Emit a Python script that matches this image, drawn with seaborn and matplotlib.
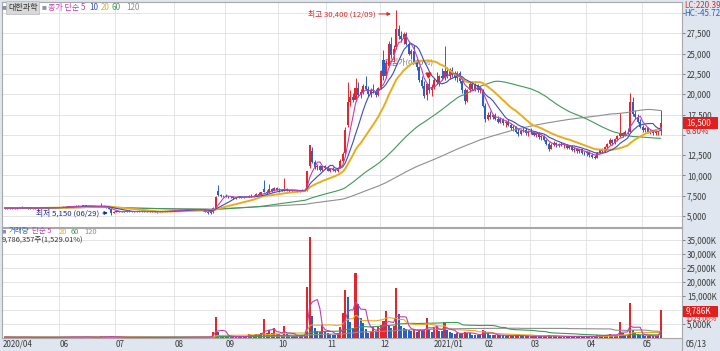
import matplotlib
matplotlib.use('Agg')
import matplotlib.pyplot as plt
import matplotlib.transforms as mtransforms
from matplotlib.patches import Rectangle
from matplotlib.ticker import FixedLocator, FuncFormatter
import numpy as np
import pandas as pd
import seaborn as sns

sns.set_theme(style='white')
plt.rcParams['font.family'] = ['Liberation Sans Narrow', 'Noto Sans CJK KR', 'DejaVu Sans']
plt.rcParams['axes.unicode_minus'] = False

# ---------------- data (prices in units of 10 won, volume in 1,000 shares) ----------------
open_10w = [600,598,595,600,596,592,597,610,604,600,
            598,594,590,596,603,607,601,598,602,606,
            603,600,605,612,610,615,620,616,618,626,
            620,622,630,624,618,621,616,612,618,628,
            614,602,590,540,552,560,555,552,556,562,
            558,550,554,557,560,555,551,553,556,553,
            549,552,557,560,556,558,563,566,570,576,
            572,574,580,578,575,580,586,578,574,564,
            552,538,545,600,810,760,742,752,740,730,
            738,720,728,735,722,738,732,752,745,750,
            775,760,830,800,785,830,810,850,820,825,
            812,830,810,818,805,812,800,810,822,830,
            1110,1300,1170,1100,1120,1070,1110,1090,1060,1080,
            1065,1050,1095,1180,1270,1620,1900,1960,1930,2080,
            1990,2030,2100,2070,2000,2050,2040,1990,2080,2420,
            2220,2350,2620,2480,2580,2800,2720,2680,2740,2620,
            2500,2530,2400,2330,2180,2100,1990,2120,2050,2090,
            2180,2150,2220,2200,2290,2230,2300,2240,2200,2260,
            2160,2050,1920,2050,2120,2070,2110,2050,2040,1860,
            1700,1750,1720,1740,1700,1660,1700,1640,1660,1620,
            1580,1600,1540,1510,1550,1560,1520,1540,1530,1500,
            1520,1470,1490,1430,1390,1330,1380,1400,1370,1390,
            1370,1380,1340,1360,1310,1330,1300,1320,1280,1270,
            1290,1250,1230,1220,1280,1320,1300,1350,1390,1440,
            1400,1450,1480,1520,1490,1540,1540,1900,1760,1720,
            1660,1600,1560,1580,1530,1550,1520,1540,1545]

high_10w = [612,605,603,608,602,600,615,618,610,606,
            604,600,598,606,612,610,606,604,610,612,
            608,606,615,620,618,625,628,622,630,632,
            626,634,636,630,625,628,622,620,660,632,
            618,606,592,560,565,566,562,560,565,568,
            562,558,560,565,564,560,556,560,562,558,
            555,560,564,566,562,566,570,575,580,582,
            578,585,588,584,582,592,590,583,578,568,
            556,548,610,745,880,775,760,765,748,745,
            742,735,740,738,742,750,760,770,758,780,
            790,800,945,815,890,845,860,855,840,835,
            970,840,825,822,818,820,815,828,830,1060,
            1380,1350,1190,1140,1130,1120,1130,1110,1090,1100,
            1080,1100,1200,1290,1600,2150,2050,2020,2200,2150,
            2060,2120,2220,2100,2080,2130,2060,2090,2300,2550,
            2420,2650,2700,2600,3040,2850,2780,2760,2760,2660,
            2560,2600,2460,2350,2230,2160,2140,2200,2120,2200,
            2270,2240,2320,2590,2340,2320,2330,2290,2280,2290,
            2180,2080,2070,2150,2160,2140,2130,2100,2060,1890,
            1780,1790,1760,1770,1730,1720,1710,1680,1690,1650,
            1620,1610,1580,1570,1590,1580,1560,1580,1550,1540,
            1530,1500,1500,1450,1410,1400,1420,1410,1400,1410,
            1390,1390,1380,1370,1350,1340,1330,1330,1300,1300,
            1300,1270,1250,1290,1330,1340,1360,1400,1460,1450,
            1460,1500,1770,1540,1560,1580,2020,1960,1800,1760,
            1690,1620,1600,1590,1570,1560,1560,1550,1800]

low_10w = [592,590,588,590,585,586,595,600,596,592,
           590,585,584,592,598,598,594,590,598,600,
           596,594,600,606,604,610,612,608,615,616,
           612,618,620,615,610,614,608,606,615,610,
           598,585,515,535,546,550,548,545,550,555,
           548,544,548,552,552,548,545,548,550,546,
           542,548,552,554,550,554,558,560,565,568,
           565,570,574,570,568,576,575,570,560,548,
           530,528,542,598,750,735,730,735,725,722,
           715,712,720,718,720,728,730,740,735,745,
           755,752,790,775,780,800,805,815,800,805,
           810,805,800,798,800,795,795,805,806,810,
           1090,1150,1080,1070,1060,1050,1080,1050,1040,1055,
           1040,1045,1090,1170,1260,1600,1850,1900,1920,1960,
           1950,2000,2050,1980,1970,2020,1970,1980,2070,2180,
           2200,2330,2450,2400,2560,2680,2640,2620,2600,2480,
           2430,2380,2300,2150,2080,1950,1930,2020,1980,2060,
           2120,2100,2180,2180,2200,2190,2210,2170,2150,2140,
           2020,1880,1900,2030,2050,2040,2030,2010,1840,1660,
           1680,1700,1690,1680,1640,1640,1620,1600,1610,1560,
           1550,1520,1490,1500,1530,1500,1490,1510,1480,1470,
           1450,1440,1420,1370,1300,1320,1360,1350,1350,1360,
           1340,1330,1320,1300,1290,1280,1270,1260,1250,1240,
           1230,1210,1200,1210,1270,1280,1290,1330,1370,1380,
           1390,1420,1470,1470,1480,1510,1530,1730,1690,1640,
           1580,1540,1530,1520,1510,1500,1500,1500,1500]

close_10w = [598,595,600,596,592,597,610,604,600,598,
             594,590,596,603,607,601,598,602,606,603,
             600,605,612,610,615,620,616,618,626,620,
             622,630,624,618,621,616,612,618,628,614,
             602,590,540,552,560,555,552,556,562,558,
             550,554,557,560,555,551,553,556,553,549,
             552,557,560,556,558,563,566,570,576,572,
             574,580,578,575,580,586,578,574,564,552,
             538,545,600,735,760,742,752,740,730,738,
             720,728,735,722,738,732,752,745,750,775,
             760,790,800,785,830,810,850,820,825,812,
             830,810,818,805,812,800,810,822,812,1055,
             1370,1170,1100,1120,1070,1110,1090,1060,1080,1065,
             1050,1095,1180,1260,1560,1900,1960,1930,2080,1990,
             2030,2100,2070,2000,2050,2040,1990,2080,2280,2220,
             2380,2620,2480,2560,2800,2720,2680,2740,2620,2500,
             2530,2400,2330,2180,2100,1980,2120,2050,2090,2180,
             2150,2220,2200,2290,2230,2300,2240,2200,2260,2160,
             2050,1920,2050,2120,2070,2110,2050,2080,1860,1700,
             1750,1720,1740,1700,1660,1700,1640,1660,1620,1580,
             1600,1540,1510,1550,1560,1520,1540,1530,1500,1520,
             1470,1490,1430,1390,1330,1380,1400,1370,1390,1370,
             1380,1340,1360,1310,1330,1300,1320,1280,1270,1290,
             1250,1230,1220,1280,1320,1300,1350,1390,1440,1400,
             1450,1480,1520,1490,1540,1530,1900,1760,1720,1660,
             1600,1560,1580,1530,1550,1520,1540,1545,1650]

volume_k = [250,180,200,150,140,160,320,210,150,130,
            120,140,150,180,200,140,120,130,170,150,
            120,140,250,200,220,300,240,180,350,260,
            200,380,280,210,190,170,160,180,700,300,
            220,260,600,300,220,160,130,140,170,140,
            120,110,120,150,110,100,100,110,100,100,
            110,130,140,120,110,140,160,180,220,170,
            150,230,200,150,160,260,180,150,200,250,
            320,300,2100,7500,2000,900,600,500,400,420,
            380,350,400,300,500,450,1200,800,500,1300,
            900,1500,6570,1800,2800,1500,3500,1200,1300,900,
            4100,1200,800,700,600,700,650,900,700,18200,
            36070,7860,3400,2500,2000,4530,2200,1500,1400,1100,
            900,1800,3800,8700,17040,14650,5700,3300,23000,12100,
            7000,5250,3000,1800,2200,3800,2500,4200,4500,6000,
            9530,4500,3300,4000,17640,8350,4000,3500,3000,2800,
            2500,3200,2000,2600,2300,2900,7000,3000,2200,3500,
            4000,2500,2300,5700,2800,2000,1500,1300,1600,1400,
            1800,2200,1700,1500,1100,1000,900,800,2600,2400,
            1500,1000,800,900,1000,900,800,700,700,800,
            700,800,900,700,600,600,500,500,600,500,
            600,500,600,700,800,600,500,450,450,400,
            400,450,400,500,400,450,400,450,400,400,
            450,500,500,800,900,600,900,1100,1300,800,
            900,1000,5500,1700,1000,1200,12270,2600,1500,1200,
            1000,800,700,700,600,600,700,640,9786]

# first trading day index of each month and its axis label
month_start_idx = [22, 44, 67, 87, 108, 127, 148, 169, 189, 207, 229, 251]
month_labels = ['06', '07', '08', '09', '10', '11', '12', '2021/01', '02', '03', '04', '05']
first_label = '2020/04'
last_date_label = '05/13'

price_ticks = [5000, 7500, 10000, 12500, 15000, 17500, 20000, 22500, 25000, 27500, 30000]
volume_ticks_k = [5000, 10000, 15000, 20000, 25000, 30000, 35000]
# tick labels covered by the right-side value boxes
covered_price = {30000, 15000}
covered_volume = {10000}

# ---------------- build frame ----------------
n = min(len(open_10w), len(high_10w), len(low_10w), len(close_10w), len(volume_k))
df = pd.DataFrame({
    'idx': np.arange(n),
    'open': np.array(open_10w[:n]) * 10,
    'high': np.array(high_10w[:n]) * 10,
    'low': np.array(low_10w[:n]) * 10,
    'close': np.array(close_10w[:n]) * 10,
    'vol': np.array(volume_k[:n], dtype=float),
})

RED = '#e3262b'
BLUE = '#2b5fc8'
MA_COLORS = {5: '#c33fae', 10: '#3a4fb8', 20: '#e9ad1c', 60: '#3e9a58', 120: '#8e8e8e'}
MA_LW = {5: 0.8, 10: 0.8, 20: 1.4, 60: 0.8, 120: 0.8}
BG = '#dfe6ef'
GRID = '#e0e0e0'
TXT = '#3a3a3a'

W, H = 720, 351
fig = plt.figure(figsize=(7.2, 3.51), dpi=100, facecolor=BG)

def fx(px):
    return px / W

def fy(py):
    return 1 - py / H

ax = fig.add_axes([fx(2), fy(227), fx(682) - fx(2), fy(2) - fy(227)])
axv = fig.add_axes([fx(2), fy(338), fx(682) - fx(2), fy(228) - fy(338)])

XL = (-1.03, 266.4)

# ---------------- price panel ----------------
ax.set_facecolor('white')
up = df['close'] >= df['open']
ccol = np.where(up, RED, BLUE)
ax.vlines(df['idx'], df['low'], df['high'], colors=ccol, lw=0.7, zorder=3)
body_bottom = np.minimum(df['open'], df['close'])
body_h = np.maximum(np.abs(df['close'] - df['open']), 40)
ax.bar(df['idx'], body_h, bottom=body_bottom, width=0.8, color=ccol, lw=0, zorder=4)

for w in [120, 60, 20, 10, 5]:
    ma = df['close'].rolling(w, min_periods=1).mean()
    sns.lineplot(x=df['idx'], y=ma, ax=ax, color=MA_COLORS[w], linewidth=MA_LW[w],
                 zorder=5, legend=False)

ax.set_xlim(*XL)
ax.set_ylim(3645, 31355)
ax.set_xlabel('')
ax.set_ylabel('')
ax.xaxis.set_major_locator(FixedLocator([m - 0.5 for m in month_start_idx]))
ax.tick_params(axis='x', length=0, labelbottom=False)
ax.yaxis.tick_right()
ax.yaxis.set_major_locator(FixedLocator(price_ticks))
ax.yaxis.set_major_formatter(FuncFormatter(
    lambda v, p: '' if round(v) in covered_price else f'{v:,.0f}'))
ax.tick_params(axis='y', right=True, length=2.5, width=0.6, color='#707070',
               labelsize=5.8, labelcolor=TXT, pad=1)
ax.grid(True, color=GRID, lw=0.6, zorder=0)
ax.set_axisbelow(True)
for s in ax.spines.values():
    s.set_color('#a8a8a8')
    s.set_linewidth(0.8)

# annotations in the price panel
ax.annotate('최고 30,400 (12/09)', xy=(151.9, 29880), xytext=(-11, 0), textcoords='offset points',
            ha='right', va='center', fontsize=5.6, color='#d42a2a', zorder=7,
            arrowprops=dict(arrowstyle='-|>', color='#d42a2a', lw=0.7, mutation_scale=5,
                            shrinkA=0, shrinkB=0))
ax.annotate('최저 5,150 (06/29)', xy=(40.6, 5370), xytext=(-6, 0), textcoords='offset points',
            ha='right', va='center', fontsize=5.6, color='#1f2a8a', zorder=7,
            arrowprops=dict(arrowstyle='-|>', color='#1f2a8a', lw=0.7, mutation_scale=5,
                            shrinkA=0, shrinkB=0))
ax.text(149.2, 23970, '매입가(0.00%)', ha='left', va='center', fontsize=5.6,
        color='#707070', zorder=2)
ax.plot([166.5], [22360], marker='v', ms=3.5, color='#e02020', zorder=6)

# ---------------- volume panel ----------------
axv.set_facecolor('white')
vprev = df['vol'].shift(1).fillna(0)
vcol = np.where(df['vol'] >= vprev, RED, BLUE)
axv.bar(df['idx'], df['vol'], width=0.8, color=vcol, lw=0, zorder=3)
for w in [120, 60, 20, 5]:
    vma = df['vol'].rolling(w, min_periods=1).mean()
    sns.lineplot(x=df['idx'], y=vma, ax=axv, color=MA_COLORS[w], linewidth=0.8,
                 zorder=4, legend=False)
axv.set_xlim(*XL)
axv.set_ylim(-107, 39175)
axv.set_xlabel('')
axv.set_ylabel('')
axv.xaxis.set_major_locator(FixedLocator([m - 0.5 for m in month_start_idx]))
axv.tick_params(axis='x', length=0, labelbottom=False)
axv.yaxis.tick_right()
axv.yaxis.set_major_locator(FixedLocator(volume_ticks_k))
axv.yaxis.set_major_formatter(FuncFormatter(
    lambda v, p: '' if round(v) in covered_volume else f'{v:,.0f}K'))
axv.tick_params(axis='y', right=True, length=2.5, width=0.6, color='#707070',
                labelsize=5.8, labelcolor=TXT, pad=1)
axv.grid(True, color=GRID, lw=0.6, zorder=0)
axv.set_axisbelow(True)
for s in axv.spines.values():
    s.set_color('#a8a8a8')
    s.set_linewidth(0.8)

# ---------------- date labels ----------------
tr = mtransforms.blended_transform_factory(axv.transData, fig.transFigure)
axv.text(-0.6, fy(344.5), first_label, transform=tr, ha='left', va='center',
         fontsize=5.8, color=TXT, clip_on=False)
for m, lab in zip(month_start_idx, month_labels):
    axv.text(m - 0.2, fy(344.5), lab, transform=tr, ha='left', va='center',
             fontsize=5.8, color=TXT, clip_on=False)
fig.text(fx(686), fy(344.5), last_date_label, ha='left', va='center', fontsize=5.8, color=TXT)
fig.add_artist(plt.Line2D([fx(682), fx(682)], [fy(338), fy(351)], color='#a8a8a8', lw=0.8))

# ---------------- legends ----------------
def seq(items, y):
    for x, s, c, size in items:
        fig.text(fx(x), fy(y), s, ha='left', va='center', fontsize=size, color=c)

fig.text(fx(8), fy(7.5), '대한과학', ha='left', va='center', fontsize=5.8, color='#333333',
         bbox=dict(boxstyle='square,pad=0.2', fc='#d8d8d8', ec='#b8b8b8', lw=0.5))
seq([(2, '■', '#8a93a8', 3.5),
     (42, '■', '#8a93a8', 3.5),
     (48, '종가 단순 5', MA_COLORS[5], 5.8),
     (89, '10', MA_COLORS[10], 5.8),
     (101, '20', MA_COLORS[20], 5.8),
     (112, '60', MA_COLORS[60], 5.8),
     (126, '120', MA_COLORS[120], 5.8)], 7.5)

seq([(2, '■', '#8a93a8', 3.2),
     (9, '거래량', '#3a6fb8', 5.4),
     (32, '단순 5', MA_COLORS[5], 5.4),
     (59, '20', MA_COLORS[20], 5.4),
     (71, '60', MA_COLORS[60], 5.4),
     (84, '120', MA_COLORS[120], 5.4)], 231.5)
fig.text(fx(2), fy(240.8), '9,786,357주(1,529.01%)', ha='left', va='center',
         fontsize=5.4, color='#333333')

# ---------------- right side boxes ----------------
fig.text(fx(684), fy(5.5), 'LC:220.39', ha='left', va='center', fontsize=5.8, color='#d42a2a')
fig.text(fx(684), fy(13.5), 'HC:-45.72', ha='left', va='center', fontsize=5.8, color='#2d5fbf')

fig.add_artist(Rectangle((fx(683), fy(128.5)), fx(718) - fx(683), 11 / H,
                         transform=fig.transFigure, fc='#e0201f', ec='none', zorder=5))
fig.text(fx(686), fy(123), f"{df['close'].iloc[-1]:,.0f}", ha='left', va='center',
         fontsize=5.8, color='white', zorder=6)
chg = (df['close'].iloc[-1] / df['close'].iloc[-2] - 1) * 100
fig.text(fx(686), fy(132), f'{chg:.2f}%', ha='left', va='center', fontsize=5.8,
         color='#e0201f', zorder=6)

fig.add_artist(Rectangle((fx(683), fy(316.5)), fx(718) - fx(683), 10.5 / H,
                         transform=fig.transFigure, fc='#e0201f', ec='none', zorder=5))
fig.text(fx(686), fy(311.3), f"{df['vol'].iloc[-1]:,.0f}K", ha='left', va='center',
         fontsize=5.8, color='white', zorder=6)
vchg = df['vol'].iloc[-1] / df['vol'].iloc[-2] * 100
fig.text(fx(685), fy(318.9), f'{vchg:.2f}%', ha='left', va='center', fontsize=5.0,
         color='#e0201f', zorder=6)

fig.savefig('out.png', dpi=100, facecolor=fig.get_facecolor())
